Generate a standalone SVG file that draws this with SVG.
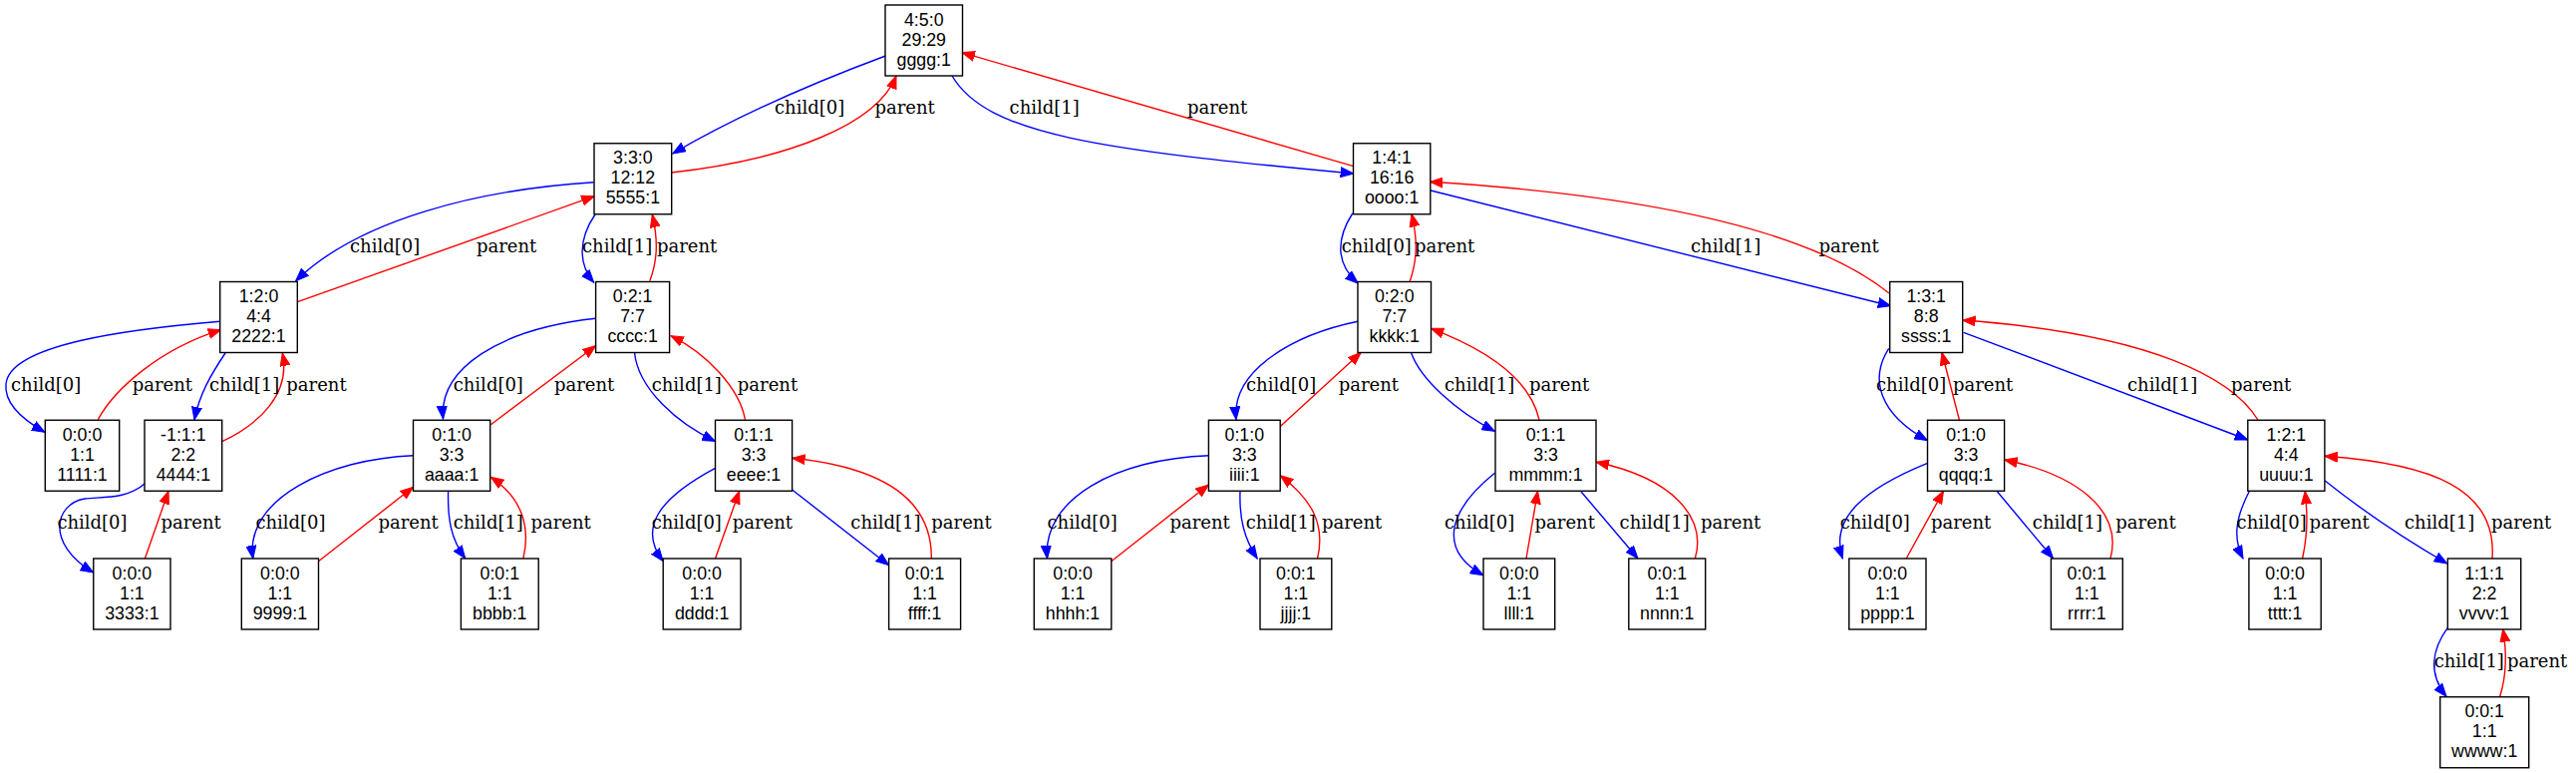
<svg xmlns="http://www.w3.org/2000/svg" width="2584" height="775" viewBox="0 0 2584 775">
<style>
.n rect{fill:#fff;stroke:#000;stroke-width:1.4}
.n text{font-family:"Liberation Sans",Arial,sans-serif;font-size:17.8px;text-anchor:middle;fill:#000}
.b{fill:none;stroke:#0000ff;stroke-width:1.4;marker-end:url(#ab)}
.r{fill:none;stroke:#ff0000;stroke-width:1.4;marker-end:url(#ar)}
.l{font-family:"DejaVu Serif",serif;font-size:18px;fill:#000}
</style>
<defs>
<marker id="ab" markerUnits="userSpaceOnUse" markerWidth="14" markerHeight="11" viewBox="0 0 14 11" refX="13" refY="5.5" orient="auto"><path d="M0,0.5 L13,5.5 L0,10.5 z" fill="#0000ff" stroke="#0000ff" stroke-width="1"/></marker>
<marker id="ar" markerUnits="userSpaceOnUse" markerWidth="14" markerHeight="11" viewBox="0 0 14 11" refX="13" refY="5.5" orient="auto"><path d="M0,0.5 L13,5.5 L0,10.5 z" fill="#ff0000" stroke="#ff0000" stroke-width="1"/></marker>
</defs>
<rect width="2584" height="775" fill="#fff"/>
<g id="connectors">
<path class="b" d="M888.4,56 C840,74 750,110 674.7,154"/>
<path class="r" d="M673.5,173 C790,160 880,125 899,76"/>
<path class="b" d="M955,76 C990,135 1100,150 1357.7,174"/>
<path class="r" d="M1357.7,166.7 L964.8,52.7"/>
<path class="b" d="M595.7,182.7 C480,190 360,220 296.6,281.7"/>
<path class="r" d="M298.5,302.7 L596.3,196.7"/>
<path class="b" d="M597,215 C580,240 580,265 595.7,283.3"/>
<path class="r" d="M651.8,281.7 C660,260 660,240 654.3,215"/>
<path class="b" d="M1356.7,214 C1340,240 1340,265 1362.3,284"/>
<path class="r" d="M1414,282.7 C1422,260 1422,240 1416,214.3"/>
<path class="b" d="M1434.2,190.7 L1896.7,306.7"/>
<path class="r" d="M1895,294 C1840,250 1720,200 1434.2,182.3"/>
<path class="b" d="M220.7,322.3 C130,330 10,345 6,385 C4,405 25,422 45,433.3"/>
<path class="r" d="M98.3,420.7 C115,390 160,350 221.7,330.7"/>
<path class="b" d="M226,354 C212,375 200,395 195,421"/>
<path class="r" d="M222.7,442.7 C260,425 292,395 283.3,354"/>
<path class="b" d="M597.6,319.3 C500,330 440,370 444.5,420"/>
<path class="r" d="M492.3,425.7 L597.6,346.7"/>
<path class="b" d="M636.5,353.3 C640,390 680,425 717.5,442.3"/>
<path class="r" d="M747.4,420.7 C742,390 710,355 672.8,336.7"/>
<path class="b" d="M1362,322.3 C1300,335 1235,370 1240,420.7"/>
<path class="r" d="M1284,427.7 L1365.3,353.3"/>
<path class="b" d="M1415.7,354 C1425,380 1460,412 1499.4,432.3"/>
<path class="r" d="M1544,421 C1535,380 1490,350 1435.4,329.3"/>
<path class="b" d="M1894.7,349.3 C1875,380 1885,415 1933.5,441.7"/>
<path class="r" d="M1965.4,421 L1947.9,353.3"/>
<path class="b" d="M1969.7,333.3 L2254.8,441"/>
<path class="r" d="M2264.9,421 C2240,380 2160,335 1968.6,321"/>
<path class="b" d="M145,485 C128,500 105,498 85,500 C55,505 45,545 93.75,574"/>
<path class="r" d="M145.4,560 L169,492.3"/>
<path class="b" d="M414.5,456.7 C330,460 245,500 253.8,560"/>
<path class="r" d="M319.5,562.7 L414.5,488.3"/>
<path class="b" d="M449.6,492.3 C449,520 452,540 466.8,560"/>
<path class="r" d="M524.9,560 C532,530 525,500 492.3,478.3"/>
<path class="b" d="M717.5,469.3 C660,500 640,530 665.2,562.7"/>
<path class="r" d="M717.5,560 L741.7,492.3"/>
<path class="b" d="M794.6,491 L891.6,566.7"/>
<path class="r" d="M934.3,560 C935,510 900,470 794.6,459.3"/>
<path class="b" d="M1212.4,456.7 C1120,460 1045,500 1050.5,560"/>
<path class="r" d="M1114.8,562.7 L1212.4,486"/>
<path class="b" d="M1244,492.3 C1243,520 1248,540 1261.2,560"/>
<path class="r" d="M1321.5,560 C1330,525 1315,500 1284.2,476.7"/>
<path class="b" d="M1499.4,474.3 C1455,510 1440,550 1488,576.7"/>
<path class="r" d="M1531,560 L1542.5,492.3"/>
<path class="b" d="M1585.5,492.3 L1643,560"/>
<path class="r" d="M1700.3,560 C1712,520 1680,480 1601,463.3"/>
<path class="b" d="M1933.5,464.3 C1870,490 1835,520 1848.4,560"/>
<path class="r" d="M1912.2,560 L1949.5,492.3"/>
<path class="b" d="M2003,492.3 L2059.6,560"/>
<path class="r" d="M2117,560 C2130,510 2080,475 2010.6,461"/>
<path class="b" d="M2256.4,492.3 C2242,520 2240,540 2250,560"/>
<path class="r" d="M2309.6,560 C2316,530 2314,510 2312.2,492.3"/>
<path class="b" d="M2331.9,481.7 C2380,520 2420,545 2454.8,565"/>
<path class="r" d="M2500,560 C2505,490 2440,465 2331.9,457.3"/>
<path class="b" d="M2455.3,629.3 C2440,650 2435,675 2454,698.3"/>
<path class="r" d="M2507.7,698.3 C2515,675 2514,650 2510.7,630.7"/>
<g id="edge-labels">
<text class="l" x="777" y="114">child[0]</text>
<text class="l" x="877.5" y="114">parent</text>
<text class="l" x="1012.6" y="114">child[1]</text>
<text class="l" x="1191" y="114">parent</text>
<text class="l" x="351" y="252.75">child[0]</text>
<text class="l" x="478" y="252.75">parent</text>
<text class="l" x="584" y="252.75">child[1]</text>
<text class="l" x="659" y="252.75">parent</text>
<text class="l" x="1345.7" y="252.75">child[0]</text>
<text class="l" x="1419" y="252.75">parent</text>
<text class="l" x="1696" y="252.75">child[1]</text>
<text class="l" x="1824.5" y="252.75">parent</text>
<text class="l" x="11" y="391.5">child[0]</text>
<text class="l" x="132.7" y="391.5">parent</text>
<text class="l" x="210" y="391.5">child[1]</text>
<text class="l" x="287.3" y="391.5">parent</text>
<text class="l" x="454.7" y="391.5">child[0]</text>
<text class="l" x="556" y="391.5">parent</text>
<text class="l" x="653.7" y="391.5">child[1]</text>
<text class="l" x="739.8" y="391.5">parent</text>
<text class="l" x="1250" y="391.5">child[0]</text>
<text class="l" x="1342.7" y="391.5">parent</text>
<text class="l" x="1449" y="391.5">child[1]</text>
<text class="l" x="1534" y="391.5">parent</text>
<text class="l" x="1882" y="391.5">child[0]</text>
<text class="l" x="1959" y="391.5">parent</text>
<text class="l" x="2134" y="391.5">child[1]</text>
<text class="l" x="2238" y="391.5">parent</text>
<text class="l" x="57.4" y="530.25">child[0]</text>
<text class="l" x="161.4" y="530.25">parent</text>
<text class="l" x="256.4" y="530.25">child[0]</text>
<text class="l" x="379.5" y="530.25">parent</text>
<text class="l" x="454.7" y="530.25">child[1]</text>
<text class="l" x="532.5" y="530.25">parent</text>
<text class="l" x="653.7" y="530.25">child[0]</text>
<text class="l" x="734.7" y="530.25">parent</text>
<text class="l" x="853.3" y="530.25">child[1]</text>
<text class="l" x="934.3" y="530.25">parent</text>
<text class="l" x="1050.5" y="530.25">child[0]</text>
<text class="l" x="1173.4" y="530.25">parent</text>
<text class="l" x="1249.7" y="530.25">child[1]</text>
<text class="l" x="1326" y="530.25">parent</text>
<text class="l" x="1449" y="530.25">child[0]</text>
<text class="l" x="1539.6" y="530.25">parent</text>
<text class="l" x="1624.6" y="530.25">child[1]</text>
<text class="l" x="1706" y="530.25">parent</text>
<text class="l" x="1845.7" y="530.25">child[0]</text>
<text class="l" x="1937" y="530.25">parent</text>
<text class="l" x="2038.8" y="530.25">child[1]</text>
<text class="l" x="2122.3" y="530.25">parent</text>
<text class="l" x="2243.6" y="530.25">child[0]</text>
<text class="l" x="2316.5" y="530.25">parent</text>
<text class="l" x="2412" y="530.25">child[1]</text>
<text class="l" x="2499" y="530.25">parent</text>
<text class="l" x="2441.7" y="669">child[1]</text>
<text class="l" x="2515" y="669">parent</text>
</g>
</g>
<g id="n_gggg" class="n"><rect x="888" y="5" width="77.5" height="71"/><text><tspan x="926.75" y="25.5">4:5:0</tspan><tspan x="926.75" y="45.5">29:29</tspan><tspan x="926.75" y="65.5">gggg:1</tspan></text></g>
<g id="n_5555" class="n"><rect x="596" y="143.75" width="77.7" height="71"/><text><tspan x="634.85" y="164.25">3:3:0</tspan><tspan x="634.85" y="184.25">12:12</tspan><tspan x="634.85" y="204.25">5555:1</tspan></text></g>
<g id="n_oooo" class="n"><rect x="1357.5" y="143.75" width="77.3" height="71"/><text><tspan x="1396.15" y="164.25">1:4:1</tspan><tspan x="1396.15" y="184.25">16:16</tspan><tspan x="1396.15" y="204.25">oooo:1</tspan></text></g>
<g id="n_2222" class="n"><rect x="220.7" y="282.5" width="77.6" height="71"/><text><tspan x="259.5" y="303">1:2:0</tspan><tspan x="259.5" y="323">4:4</tspan><tspan x="259.5" y="343">2222:1</tspan></text></g>
<g id="n_cccc" class="n"><rect x="597.6" y="282.5" width="74" height="71"/><text><tspan x="634.6" y="303">0:2:1</tspan><tspan x="634.6" y="323">7:7</tspan><tspan x="634.6" y="343">cccc:1</tspan></text></g>
<g id="n_kkkk" class="n"><rect x="1362" y="282.5" width="73.5" height="71"/><text><tspan x="1398.75" y="303">0:2:0</tspan><tspan x="1398.75" y="323">7:7</tspan><tspan x="1398.75" y="343">kkkk:1</tspan></text></g>
<g id="n_ssss" class="n"><rect x="1895.7" y="282.5" width="73" height="71"/><text><tspan x="1932.2" y="303">1:3:1</tspan><tspan x="1932.2" y="323">8:8</tspan><tspan x="1932.2" y="343">ssss:1</tspan></text></g>
<g id="n_1111" class="n"><rect x="45.3" y="421.25" width="74.4" height="71"/><text><tspan x="82.5" y="441.75">0:0:0</tspan><tspan x="82.5" y="461.75">1:1</tspan><tspan x="82.5" y="481.75">1111:1</tspan></text></g>
<g id="n_4444" class="n"><rect x="145" y="421.25" width="77.7" height="71"/><text><tspan x="183.85" y="441.75">-1:1:1</tspan><tspan x="183.85" y="461.75">2:2</tspan><tspan x="183.85" y="481.75">4444:1</tspan></text></g>
<g id="n_aaaa" class="n"><rect x="414.5" y="421.25" width="77.2" height="71"/><text><tspan x="453.1" y="441.75">0:1:0</tspan><tspan x="453.1" y="461.75">3:3</tspan><tspan x="453.1" y="481.75">aaaa:1</tspan></text></g>
<g id="n_eeee" class="n"><rect x="717.5" y="421.25" width="77.1" height="71"/><text><tspan x="756.05" y="441.75">0:1:1</tspan><tspan x="756.05" y="461.75">3:3</tspan><tspan x="756.05" y="481.75">eeee:1</tspan></text></g>
<g id="n_iiii" class="n"><rect x="1212.4" y="421.25" width="71.8" height="71"/><text><tspan x="1248.3" y="441.75">0:1:0</tspan><tspan x="1248.3" y="461.75">3:3</tspan><tspan x="1248.3" y="481.75">iiii:1</tspan></text></g>
<g id="n_mmmm" class="n"><rect x="1500" y="421.25" width="101" height="71"/><text><tspan x="1550.5" y="441.75">0:1:1</tspan><tspan x="1550.5" y="461.75">3:3</tspan><tspan x="1550.5" y="481.75">mmmm:1</tspan></text></g>
<g id="n_qqqq" class="n"><rect x="1933.5" y="421.25" width="77.1" height="71"/><text><tspan x="1972.05" y="441.75">0:1:0</tspan><tspan x="1972.05" y="461.75">3:3</tspan><tspan x="1972.05" y="481.75">qqqq:1</tspan></text></g>
<g id="n_uuuu" class="n"><rect x="2254.8" y="421.25" width="77.1" height="71"/><text><tspan x="2293.35" y="441.75">1:2:1</tspan><tspan x="2293.35" y="461.75">4:4</tspan><tspan x="2293.35" y="481.75">uuuu:1</tspan></text></g>
<g id="n_3333" class="n"><rect x="93.75" y="560" width="77.25" height="71"/><text><tspan x="132.4" y="580.5">0:0:0</tspan><tspan x="132.4" y="600.5">1:1</tspan><tspan x="132.4" y="620.5">3333:1</tspan></text></g>
<g id="n_9999" class="n"><rect x="242.3" y="560" width="77.2" height="71"/><text><tspan x="280.9" y="580.5">0:0:0</tspan><tspan x="280.9" y="600.5">1:1</tspan><tspan x="280.9" y="620.5">9999:1</tspan></text></g>
<g id="n_bbbb" class="n"><rect x="462.4" y="560" width="77.8" height="71"/><text><tspan x="501.3" y="580.5">0:0:1</tspan><tspan x="501.3" y="600.5">1:1</tspan><tspan x="501.3" y="620.5">bbbb:1</tspan></text></g>
<g id="n_dddd" class="n"><rect x="665.2" y="560" width="77.8" height="71"/><text><tspan x="704.1" y="580.5">0:0:0</tspan><tspan x="704.1" y="600.5">1:1</tspan><tspan x="704.1" y="620.5">dddd:1</tspan></text></g>
<g id="n_ffff" class="n"><rect x="891.6" y="560" width="72" height="71"/><text><tspan x="927.6" y="580.5">0:0:1</tspan><tspan x="927.6" y="600.5">1:1</tspan><tspan x="927.6" y="620.5">ffff:1</tspan></text></g>
<g id="n_hhhh" class="n"><rect x="1037.3" y="560" width="77.5" height="71"/><text><tspan x="1076.05" y="580.5">0:0:0</tspan><tspan x="1076.05" y="600.5">1:1</tspan><tspan x="1076.05" y="620.5">hhhh:1</tspan></text></g>
<g id="n_jjjj" class="n"><rect x="1264" y="560" width="71.8" height="71"/><text><tspan x="1299.9" y="580.5">0:0:1</tspan><tspan x="1299.9" y="600.5">1:1</tspan><tspan x="1299.9" y="620.5">jjjj:1</tspan></text></g>
<g id="n_llll" class="n"><rect x="1488" y="560" width="71.7" height="71"/><text><tspan x="1523.85" y="580.5">0:0:0</tspan><tspan x="1523.85" y="600.5">1:1</tspan><tspan x="1523.85" y="620.5">llll:1</tspan></text></g>
<g id="n_nnnn" class="n"><rect x="1633.8" y="560" width="76.9" height="71"/><text><tspan x="1672.25" y="580.5">0:0:1</tspan><tspan x="1672.25" y="600.5">1:1</tspan><tspan x="1672.25" y="620.5">nnnn:1</tspan></text></g>
<g id="n_pppp" class="n"><rect x="1854.8" y="560" width="77.2" height="71"/><text><tspan x="1893.4" y="580.5">0:0:0</tspan><tspan x="1893.4" y="600.5">1:1</tspan><tspan x="1893.4" y="620.5">pppp:1</tspan></text></g>
<g id="n_rrrr" class="n"><rect x="2057.4" y="560" width="71.9" height="71"/><text><tspan x="2093.35" y="580.5">0:0:1</tspan><tspan x="2093.35" y="600.5">1:1</tspan><tspan x="2093.35" y="620.5">rrrr:1</tspan></text></g>
<g id="n_tttt" class="n"><rect x="2255.9" y="560" width="72.3" height="71"/><text><tspan x="2292.05" y="580.5">0:0:0</tspan><tspan x="2292.05" y="600.5">1:1</tspan><tspan x="2292.05" y="620.5">tttt:1</tspan></text></g>
<g id="n_vvvv" class="n"><rect x="2455.3" y="560" width="73.4" height="71"/><text><tspan x="2492" y="580.5">1:1:1</tspan><tspan x="2492" y="600.5">2:2</tspan><tspan x="2492" y="620.5">vvvv:1</tspan></text></g>
<g id="n_wwww" class="n"><rect x="2447.7" y="698.75" width="89" height="71"/><text><tspan x="2492.2" y="719.25">0:0:1</tspan><tspan x="2492.2" y="739.25">1:1</tspan><tspan x="2492.2" y="759.25">wwww:1</tspan></text></g>
</svg>
